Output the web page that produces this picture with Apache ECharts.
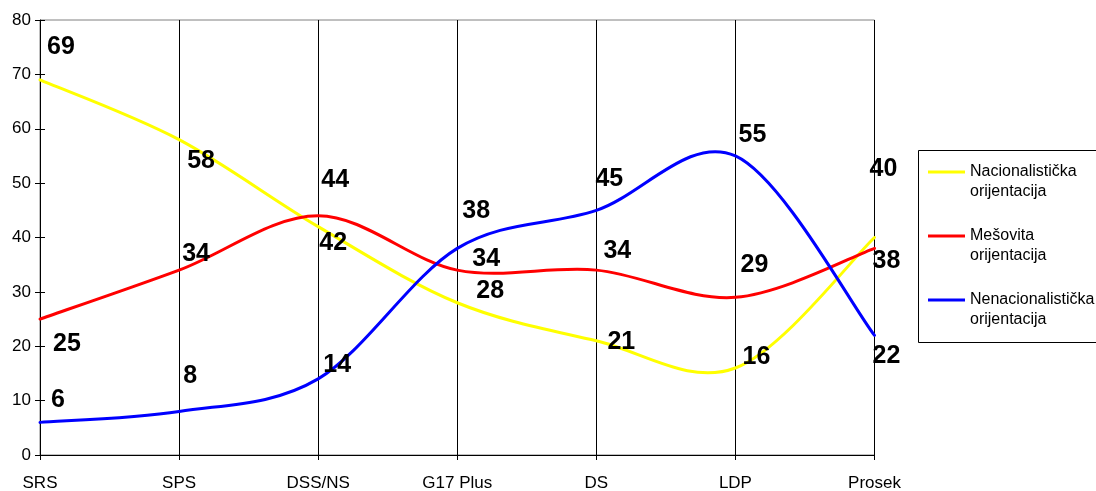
<!DOCTYPE html>
<html>
<head>
<meta charset="utf-8">
<script src="https://cdn.jsdelivr.net/npm/echarts@6/dist/echarts.min.js"></script>
<style>
html,body{margin:0;padding:0;background:#fff;}
#chart{width:1096px;height:491px;}
</style>
</head>
<body>
<div id="chart"></div>
<script>
// ---- data ----
const categories = ['SRS', 'SPS', 'DSS/NS', 'G17 Plus', 'DS', 'LDP', 'Prosek'];
const seriesNames = ['Nacionalistička orijentacija', 'Mešovita orijentacija', 'Nenacionalistička orijentacija'];
const nacionalisticka = [69, 58, 42, 28, 21, 16, 40];
const mesovita = [25, 34, 44, 34, 34, 29, 38];
const nenacionalisticka = [6, 8, 14, 38, 45, 55, 22];
const yMin = 0, yMax = 80, yInterval = 10;

// ---- layout (label offsets in px from each point) ----
const offNac = [[21, -33], [22, 21], [15, 16], [33, -12], [25, 1], [21, -11], [9, -68]];
const offMes = [[27, 25], [17, -16], [17, -36], [29, -11], [21, -19], [19, -32], [12, 13]];
const offNen = [[18, -22], [11, -35], [19, -14], [19, -37], [13, -31], [17, -21], [12, 21]];
const colors = ['#FFFF00', '#FF0000', '#0000FF'];
const FONT = 'Liberation Sans, Arial, sans-serif';

// Smooth curve through the points (Catmull-Rom style Bezier, like a spreadsheet "smoothed line")
function curvePath(pts) {
  let d = 'M' + pts[0][0] + ' ' + pts[0][1];
  for (let i = 0; i < pts.length - 1; i++) {
    const p0 = pts[Math.max(i - 1, 0)], p1 = pts[i], p2 = pts[i + 1], p3 = pts[Math.min(i + 2, pts.length - 1)];
    const c1x = p1[0] + (p2[0] - p0[0]) / 6, c1y = p1[1] + (p2[1] - p0[1]) / 6;
    const c2x = p2[0] - (p3[0] - p1[0]) / 6, c2y = p2[1] - (p3[1] - p1[1]) / 6;
    d += ' C' + c1x + ' ' + c1y + ' ' + c2x + ' ' + c2y + ' ' + p2[0] + ' ' + p2[1];
  }
  return d;
}

function makeSeries(name, vals, offs, color, z) {
  return {
    name: name,
    type: 'custom',
    coordinateSystem: 'cartesian2d',
    data: vals.map((v, i) => [i, v]),
    encode: { x: 0, y: 1 },
    silent: true,
    z: z,
    renderItem: function (params, api) {
      const i = params.dataIndex;
      const children = [];
      if (i === 0) {
        const pts = vals.map((v, k) => api.coord([k, v]));
        children.push({
          type: 'path',
          shape: { pathData: curvePath(pts) },
          style: { fill: 'none', stroke: color, lineWidth: 3, lineJoin: 'round', lineCap: 'round' },
          z2: 1
        });
      }
      const p = api.coord([i, vals[i]]);
      children.push({
        type: 'text',
        x: p[0] + offs[i][0],
        y: p[1] + offs[i][1],
        z2: 10,
        style: {
          text: String(vals[i]),
          align: 'center',
          verticalAlign: 'middle',
          fontFamily: FONT,
          fontWeight: 'bold',
          fontSize: 25,
          fill: '#000'
        }
      });
      return { type: 'group', children: children };
    }
  };
}

const chart = echarts.init(document.getElementById('chart'), null, { renderer: 'canvas' });
chart.setOption({
  animation: false,
  backgroundColor: '#fff',
  grid: {
    left: 40, right: 221.5, top: 20, bottom: 36,
    outerBoundsMode: 'none',
    containLabel: false,
    show: true, borderColor: '#808080', borderWidth: 1, backgroundColor: 'transparent'
  },
  xAxis: {
    type: 'category',
    data: categories,
    boundaryGap: false,
    axisLine: { lineStyle: { color: '#000', width: 1 } },
    axisTick: { show: true, length: 5, lineStyle: { color: '#000' } },
    axisLabel: { color: '#000', fontFamily: FONT, fontSize: 17, margin: 20 },
    splitLine: { show: true, lineStyle: { color: '#000', width: 1 } }
  },
  yAxis: [{
    type: 'value',
    min: yMin, max: yMax, interval: yInterval,
    axisLine: { show: true, lineStyle: { color: '#000', width: 1 } },
    axisTick: { show: true, length: 5, lineStyle: { color: '#000' } },
    axisLabel: { color: '#000', fontFamily: FONT, fontSize: 17, margin: 9 },
    splitLine: { show: false }
  }, {
    type: 'value', position: 'left',
    min: yMin, max: yMax, interval: yInterval,
    axisLine: { show: false },
    axisTick: { show: true, inside: true, length: 5, lineStyle: { color: '#000' } },
    axisLabel: { show: false },
    splitLine: { show: false }
  }],
  legend: {
    orient: 'vertical',
    left: 928, top: 142,
    padding: 0,
    itemGap: 4,
    itemWidth: 37, itemHeight: 3,
    selectedMode: false,
    formatter: name => '\n' + name.replace(' ', '\n'),
    textStyle: { fontFamily: FONT, fontSize: 16, lineHeight: 20, color: '#000' },
    data: seriesNames.map((n, i) => ({ name: n, icon: 'rect', itemStyle: { color: colors[i] } }))
  },
  graphic: [{
    type: 'rect',
    shape: { x: 918.5, y: 150.5, width: 200, height: 192 },
    style: { fill: 'none', stroke: '#000', lineWidth: 1 },
    silent: true
  }],
  series: [
    makeSeries(seriesNames[0], nacionalisticka, offNac, colors[0], 3),
    makeSeries(seriesNames[1], mesovita, offMes, colors[1], 4),
    makeSeries(seriesNames[2], nenacionalisticka, offNen, colors[2], 5)
  ]
});
</script>
</body>
</html>
